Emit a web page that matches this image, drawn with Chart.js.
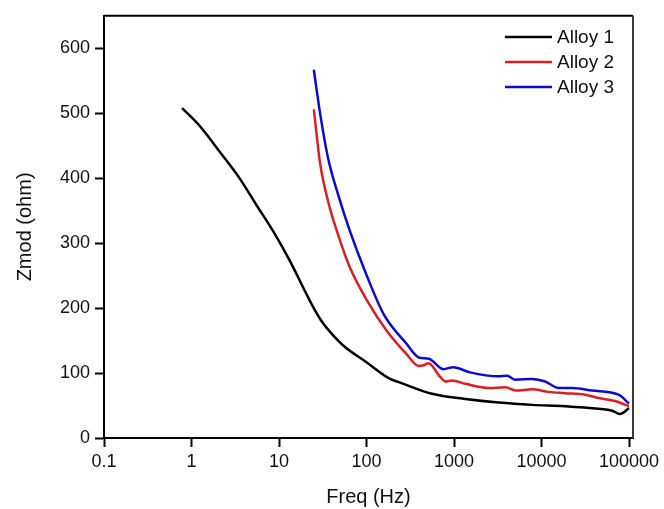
<!DOCTYPE html>
<html>
<head>
<meta charset="utf-8">
<script src="https://cdn.jsdelivr.net/npm/chart.js@4"></script>
<style>
  html, body { margin: 0; padding: 0; background: #fff; }
  #wrap { width: 664px; height: 509px; }
</style>
</head>
<body>
<div id="wrap"><canvas id="zChart"></canvas></div>
<script>
// data
const seriesNames = ['Alloy 1', 'Alloy 2', 'Alloy 3'];

const alloy1Freq = [0.78, 1.25, 2.12, 3.58, 5.56, 8.6, 13.4, 19, 24.5, 31, 40.4, 56.8, 99, 186, 234, 560, 1350, 3240, 7800, 18600, 45000, 64000, 79000, 100000];
const alloy1Z    = [508, 480, 440, 399, 358, 318, 272, 231, 202, 179, 160, 140, 117, 91, 86, 68, 60, 54.5, 51, 49, 45, 42, 37, 46];

const alloy2Freq = [25, 29.4, 36.6, 47.6, 64.8, 100, 170, 287, 395, 450, 510, 696, 800, 950, 1350, 2500, 3880, 5040, 7800, 12000, 18600, 31600, 45000, 69000, 100000];
const alloy2Z    = [506, 424, 363, 312, 262, 213, 165, 129, 111, 112, 115, 94, 87, 88.5, 83.5, 77, 78, 73, 75, 71, 69, 66.7, 61.5, 57, 49];

const alloy3Freq = [25, 29.4, 36.6, 47.6, 64.8, 100, 158, 287, 395, 516, 755, 980, 1520, 3240, 4030, 5040, 7800, 11000, 15700, 22400, 37800, 76000, 100000];
const alloy3Z    = [567, 501, 429, 374, 318, 251, 190, 145, 124, 122, 106, 109, 101, 95, 96, 89.6, 91, 87, 77, 77, 73, 66.7, 53];

const xTickValues = [0.1, 1, 10, 100, 1000, 10000, 100000];
const xTickLabels = ['0.1', '1', '10', '100', '1000', '10000', '100000'];
const yTickValues = [0, 100, 200, 300, 400, 500, 600];

const colors = ['#000000', '#dc1e24', '#0a0ad2'];
const FONT = '"Liberation Sans", Arial, sans-serif';

function pts(xs, ys){
  return xs.map((x, i) => ({ x: x, y: ys[i] }));
}

// frame top + right, and legend inside the plot
const framePlugin = {
  id: 'frame',
  afterDraw(chart){
    const { ctx, chartArea: a } = chart;
    ctx.save();
    ctx.lineWidth = 2;
    ctx.strokeStyle = '#000';
    ctx.beginPath();
    ctx.moveTo(a.left, a.top);
    ctx.lineTo(a.right, a.top);
    ctx.stroke();
    ctx.strokeStyle = '#3a3a3a';
    ctx.beginPath();
    ctx.moveTo(a.right, a.top);
    ctx.lineTo(a.right, a.bottom);
    ctx.stroke();

    ctx.font = '19px ' + FONT;
    ctx.textBaseline = 'middle';
    ctx.textAlign = 'left';
    chart.data.datasets.forEach((ds, i) => {
      const y = 37 + i * 25;
      ctx.strokeStyle = ds.borderColor;
      ctx.lineWidth = 2.5;
      ctx.beginPath();
      ctx.moveTo(505, y);
      ctx.lineTo(552, y);
      ctx.stroke();
      ctx.fillStyle = '#111';
      ctx.fillText(ds.label, 557, y + 1);
    });
    ctx.restore();
  }
};

new Chart(document.getElementById('zChart'), {
  type: 'line',
  data: {
    datasets: [
      { label: seriesNames[0], data: pts(alloy1Freq, alloy1Z), borderColor: colors[0] },
      { label: seriesNames[1], data: pts(alloy2Freq, alloy2Z), borderColor: colors[1] },
      { label: seriesNames[2], data: pts(alloy3Freq, alloy3Z), borderColor: colors[2] }
    ]
  },
  options: {
    responsive: true,
    maintainAspectRatio: false,
    animation: false,
    layout: { padding: { top: 12, right: 31, left: 0, bottom: 0 } },
    elements: {
      point: { radius: 0 },
      line: { borderWidth: 2.5, cubicInterpolationMode: 'monotone', fill: false }
    },
    plugins: {
      legend: { display: false },
      tooltip: { enabled: false }
    },
    scales: {
      x: {
        type: 'logarithmic',
        min: 0.1,
        max: 111000,
        afterBuildTicks: s => { s.ticks = xTickValues.map(v => ({ value: v })); },
        afterFit: s => { s.height = 71; },
        ticks: {
          autoSkip: false,
          maxRotation: 0,
          padding: 4,
          color: '#111',
          font: { family: FONT, size: 18 },
          callback: (v, i) => xTickLabels[i]
        },
        grid: { drawOnChartArea: false, drawTicks: true, tickLength: 9, tickColor: '#000', tickWidth: 2 },
        border: { display: true, color: '#000', width: 2 },
        title: {
          display: true,
          text: 'Freq (Hz)',
          color: '#111',
          font: { family: FONT, size: 20 },
          padding: { top: 0, bottom: 0 }
        }
      },
      y: {
        min: 0,
        max: 650,
        afterBuildTicks: s => { s.ticks = yTickValues.map(v => ({ value: v })); },
        afterFit: s => { s.width = 104; },
        ticks: {
          padding: 5,
          color: '#111',
          font: { family: FONT, size: 18 }
        },
        grid: { drawOnChartArea: false, drawTicks: true, tickLength: 9, tickColor: '#000', tickWidth: 2 },
        border: { display: true, color: '#000', width: 2 },
        title: {
          display: true,
          text: 'Zmod (ohm)',
          color: '#111',
          font: { family: FONT, size: 20 },
          padding: { top: 13, bottom: 0 }
        }
      }
    }
  },
  plugins: [framePlugin]
});
</script>
</body>
</html>
